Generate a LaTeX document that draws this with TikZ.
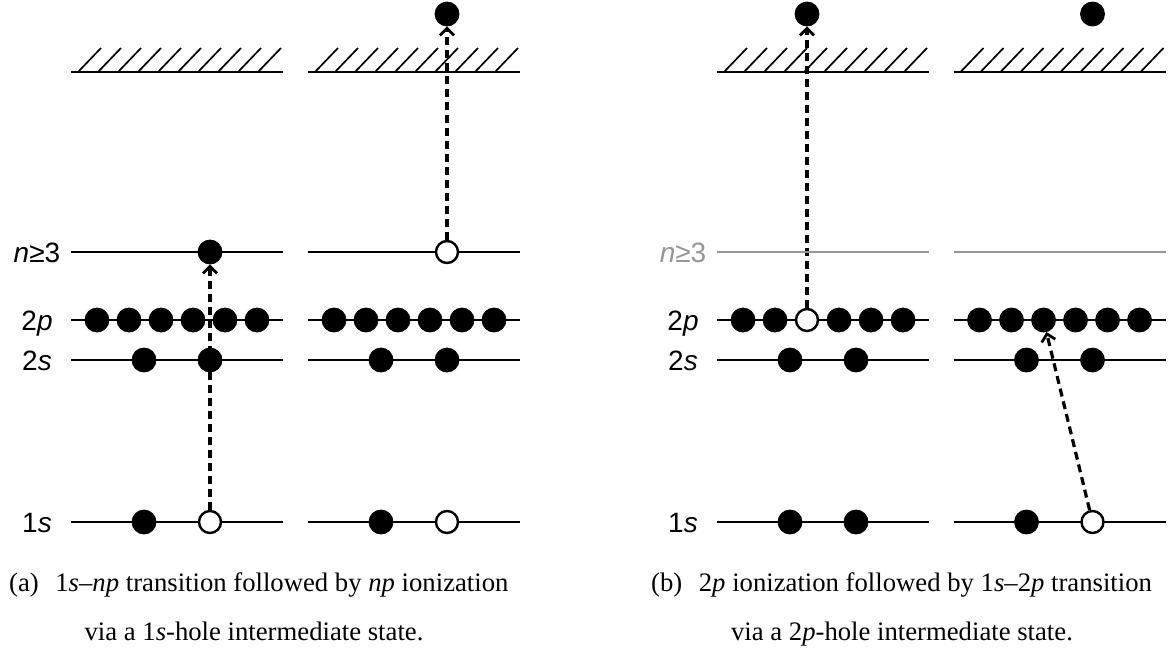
\documentclass[tikz,border=0pt]{standalone}
\usepackage{fontspec}
\setmainfont{Liberation Serif}
\newfontfamily\lblfont{Liberation Sans}
\usetikzlibrary{arrows.meta,backgrounds}
\definecolor{lvgray}{RGB}{150,150,150}
\begin{document}
\begin{tikzpicture}[x=1pt,y=-1pt,
  level/.style={line width=2pt},
  glevel/.style={line width=2pt, draw=lvgray},
  hatchline/.style={line width=1.7pt},
  elec/.style={circle, fill=black, draw=black, line width=0.8pt, minimum size=24pt, inner sep=0pt},
  hole/.style={circle, fill=white, draw=black, line width=2.4pt, minimum size=22pt, inner sep=0pt},
  trans/.style={line width=3.2pt, dash pattern=on 8pt off 5pt,
    -{Straight Barb[length=7pt,width=14pt,line width=2.8pt]}},
  lbl/.style={font=\lblfont\fontsize{28}{28}\selectfont, inner sep=0pt, anchor=base},
  glbl/.style={lbl, text=lvgray},
  captxt/.style={font=\fontsize{26.7}{30}\selectfont, inner sep=0pt, anchor=base}]
\useasboundingbox (0,0) rectangle (1173,672);

% ---------- levels and hatches ----------
\foreach \c/\g in {177/0, 414/0, 823/1, 1059.5/1}{
  \draw[level] (\c-106,72) -- (\c+106,72);
  \foreach \k in {0,...,9}{
    \draw[hatchline] (\c-99+20*\k,72) -- (\c-76+20*\k,48);
  }
  \ifnum\g=0
    \draw[level] (\c-106,252) -- (\c+106,252);
  \else
    \draw[glevel] (\c-106,252) -- (\c+106,252);
  \fi
  \draw[level] (\c-106,320) -- (\c+106,320);
  \draw[level] (\c-106,360) -- (\c+106,360);
  \draw[level] (\c-106,522) -- (\c+106,522);
}

% ---------- level labels ----------
\node[lbl] (la3) at (37,262) {\textit{n}≥3};
\node[lbl] (la2p) at (37,330) {2\textit{p}};
\node[lbl] (la2s) at (37,370) {2\textit{s}};
\node[lbl] (la1s) at (37,532) {1\textit{s}};
\node[glbl] (lb3) at (683,262) {\textit{n}≥3};
\node[lbl] (lb2p) at (683,330) {2\textit{p}};
\node[lbl] (lb2s) at (683,370) {2\textit{s}};
\node[lbl] (lb1s) at (683,532) {1\textit{s}};

% ---------- panel (a), left column ----------
\foreach \i/\x in {1/97,2/129,3/161,4/193,5/225,6/257}{\node[elec] (aLp\i) at (\x,320) {};}
\node[elec] (aLs1) at (144,360) {};
\node[elec] (aLs2) at (210,360) {};
\node[elec] (aL1a) at (144,522) {};
\node[hole] (aL1h) at (210,522) {};
\node[elec] (aL3e) at (210,252) {};

% ---------- panel (a), right column ----------
\foreach \i/\x in {1/334,2/366,3/398,4/430,5/462,6/494}{\node[elec] (aRp\i) at (\x,320) {};}
\node[elec] (aRs1) at (381,360) {};
\node[elec] (aRs2) at (447,360) {};
\node[elec] (aR1a) at (381,522) {};
\node[hole] (aR1h) at (447,522) {};
\node[hole] (aR3h) at (447,252) {};
\node[elec] (aRtop) at (447,14) {};

% ---------- panel (b), left column ----------
\foreach \i/\x in {1/743,2/775,4/839,5/871,6/903}{\node[elec] (bLp\i) at (\x,320) {};}
\node[hole] (bLp3) at (807,320) {};
\node[elec] (bLs1) at (790,360) {};
\node[elec] (bLs2) at (856,360) {};
\node[elec] (bL1a) at (790,522) {};
\node[elec] (bL1b) at (856,522) {};
\node[elec] (bLtop) at (807,14) {};

% ---------- panel (b), right column ----------
\foreach \i/\x in {1/979.5,2/1011.5,3/1043.5,4/1075.5,5/1107.5,6/1139.5}{\node[elec] (bRp\i) at (\x,320) {};}
\node[elec] (bRs1) at (1026.5,360) {};
\node[elec] (bRs2) at (1092.5,360) {};
\node[elec] (bR1a) at (1026.5,522) {};
\node[hole] (bR1h) at (1092.5,522) {};
\node[elec] (bRtop) at (1092.5,14) {};

% ---------- transitions ----------
\begin{scope}[on background layer]
  \draw[trans] (aL1h) -- (aL3e);
  \draw[trans] (aR3h) -- (aRtop);
  \draw[trans] (bLp3) -- (bLtop);
  \draw[trans] (bR1h) -- (bRp3);
\end{scope}

% ---------- captions ----------
\node[captxt, anchor=base west] (capa1) at (9,591) {(a)\hspace{0.62em}1\textit{s}–\textit{np} transition followed by \textit{np} ionization};
\node[captxt] (capa2) at (254,640) {via a 1\textit{s}-hole intermediate state.};
\node[captxt, anchor=base west] (capb1) at (651,591) {(b)\hspace{0.62em}2\textit{p} ionization followed by 1\textit{s}–2\textit{p} transition};
\node[captxt] (capb2) at (902,640) {via a 2\textit{p}-hole intermediate state.};
\end{tikzpicture}
\end{document}
